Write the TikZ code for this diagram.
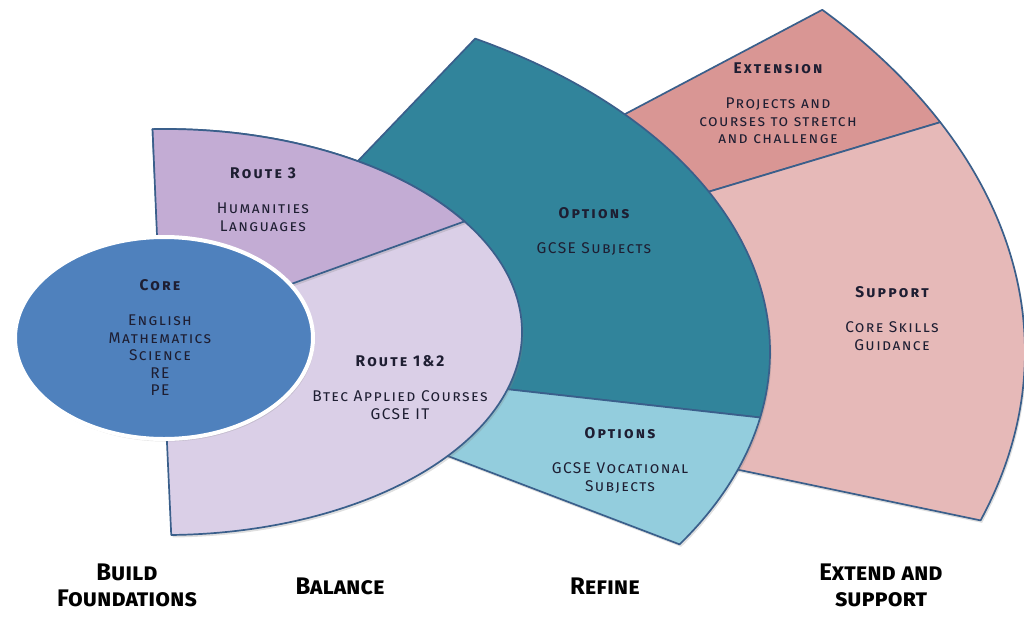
\documentclass[tikz,border=0pt]{standalone}
\usepackage{fontspec}
\setmainfont{Fira Sans}
\usetikzlibrary{positioning}
\usetikzlibrary{shadows}

\definecolor{edgeblue}{HTML}{3A5F8B}
\definecolor{coreblue}{HTML}{4F81BD}
\definecolor{routethree}{HTML}{C3ACD4}
\definecolor{routeonetwo}{HTML}{DACFE7}
\definecolor{optteal}{HTML}{31849B}
\definecolor{optlight}{HTML}{93CDDD}
\definecolor{extpink}{HTML}{D99694}
\definecolor{suppink}{HTML}{E6B9B8}
\definecolor{labtext}{HTML}{1E1E32}

\tikzset{
  softshadow/.style={drop shadow={opacity=.25, shadow xshift=1.5pt, shadow yshift=-2.5pt}},
  sector/.style={draw=edgeblue, line width=1.7pt, line join=round, softshadow},
  head/.style={font=\fontsize{15.5}{17.5}\selectfont\bfseries\scshape\addfontfeatures{LetterSpace=14},
    text=labtext, inner sep=0pt},
  body/.style={font=\fontsize{15.5}{17.5}\selectfont\scshape\addfontfeatures{LetterSpace=9},
    text=labtext, align=center, inner sep=0pt, below=24pt of #1},
  stage/.style={font=\fontsize{24}{26}\selectfont\bfseries\scshape, align=center, inner sep=0pt}
}

\begin{document}
\begin{tikzpicture}[x=1pt, y=-1pt]
  \useasboundingbox (0,0) rectangle (1024,616);
  % outer band
  \path[sector, fill=extpink] (175,352) -- ++(-40.4:850 and 528)
    arc[start angle=-40.4, end angle=-25.8, x radius=850, y radius=528] -- cycle;
  \path[sector, fill=suppink] (175,352) -- ++(-25.8:850 and 528)
    arc[start angle=-25.8, end angle=18.6, x radius=850, y radius=528] -- cycle;
  % middle band
  \path[sector, fill=optteal] (175,352) -- ++(-59.7:595 and 363)
    arc[start angle=-59.7, end angle=10.4, x radius=595, y radius=363] -- cycle;
  \path[sector, fill=optlight] (175,352) -- ++(10.4:595 and 363)
    arc[start angle=10.4, end angle=32, x radius=595, y radius=363] -- cycle;
  % inner band
  \path[sector, fill=routeonetwo] (165,332) ++(-92:357 and 203)
    arc[start angle=-92, end angle=89, x radius=357, y radius=203] -- cycle;
  \path[sector, fill=routethree, drop shadow={opacity=0}] (165,332) ++(-92:357 and 203)
    arc[start angle=-92, end angle=-33, x radius=357, y radius=203] -- (161,331) -- cycle;
  % core
  \path[fill=coreblue, draw=white, line width=4pt, softshadow] (164,338) ellipse[x radius=149, y radius=101];

  \node[head] (coretitle) at (160,285) {Core};
  \node[body=coretitle] (corebody) {English\\Mathematics\\Science\\RE\\PE};
  \node[head] (r3title) at (263,173) {Route 3};
  \node[body=r3title] (r3body) {Humanities\\Languages};
  \node[head] (r12title) at (400,361) {Route 1\&2};
  \node[body=r12title] (r12body) {Btec Applied Courses\\GCSE IT};
  \node[head] (opttitle) at (594,213) {Options};
  \node[body=opttitle] (optbody) {GCSE Subjects};
  \node[head] (voctitle) at (620,433) {Options};
  \node[body=voctitle] (vocbody) {GCSE Vocational\\Subjects};
  \node[head] (exttitle) at (778,68) {Extension};
  \node[body=exttitle] (extbody) {Projects and\\courses to stretch\\and challenge};
  \node[head] (suptitle) at (892,292) {Support};
  \node[body=suptitle] (supbody) {Core Skills\\Guidance};

  % stages
  \node[stage] (build) at (127,585) {Build\\Foundations};
  \node[stage] (balance) at (340,586) {Balance};
  \node[stage] (refine) at (605,586) {Refine};
  \node[stage] (extend) at (881,585) {Extend and\\support};
\end{tikzpicture}
\end{document}
